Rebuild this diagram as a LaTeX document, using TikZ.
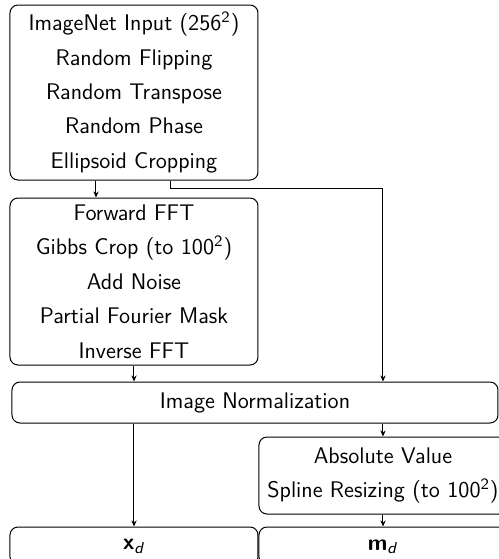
\documentclass[tikz,border=0pt]{standalone}
\usetikzlibrary{arrows.meta}
\begin{document}
\begin{tikzpicture}[x=0.5pt,y=-0.5pt,
  every node/.style={font=\sffamily\fontsize{11.3}{17.2}\selectfont},
  box/.style={draw, rounded corners=4pt, line width=0.5pt, inner sep=0pt, align=center, minimum width=124pt},
  arr/.style={-{Stealth[length=3pt,width=2.6pt]}, line width=0.5pt}]
\useasboundingbox (0,0) rectangle (499,559);
\clip (0,0) rectangle (499,559);
\node[box, minimum height=87.5pt] (b1) at (134,92.5) {ImageNet Input (256\textsuperscript{2})\\Random Flipping\\Random Transpose\\Random Phase\\Ellipsoid Cropping};
\node[box, minimum height=83.5pt] (b2) at (134,281.5) {Forward FFT\\Gibbs Crop (to 100\textsuperscript{2})\\Add Noise\\Partial Fourier Mask\\Inverse FFT};
\node[box, minimum width=243pt, minimum height=20.5pt] (norm) at (255,402.5) {Image Normalization};
\node[box, minimum height=38.5pt] (abs) at (383,475.5) {Absolute Value\\Spline Resizing (to 100\textsuperscript{2})};
\node[box, minimum height=19pt] (xd) at (134,546) {};
\node (xdt) at (134,546.5) {\textbf{x}\textsubscript{\textit{d}}};
\node[box, minimum height=19pt] (md) at (383,546) {};
\node (mdt) at (383,546.5) {\textbf{m}\textsubscript{\textit{d}}};
\draw[arr] ([xshift=-19pt]b1.south) -- ([xshift=-19pt]b2.north);
\draw[arr] ([xshift=18.5pt]b1.south) -- ++(0,8) -| (abs.north |- norm.north);
\draw[arr] (b2.south) -- (b2.south |- norm.north);
\draw[arr] (xd.north |- norm.south) -- (xd.north);
\draw[arr] (abs.north |- norm.south) -- (abs.north);
\draw[arr] (abs.south) -- (md.north);
\end{tikzpicture}
\end{document}
